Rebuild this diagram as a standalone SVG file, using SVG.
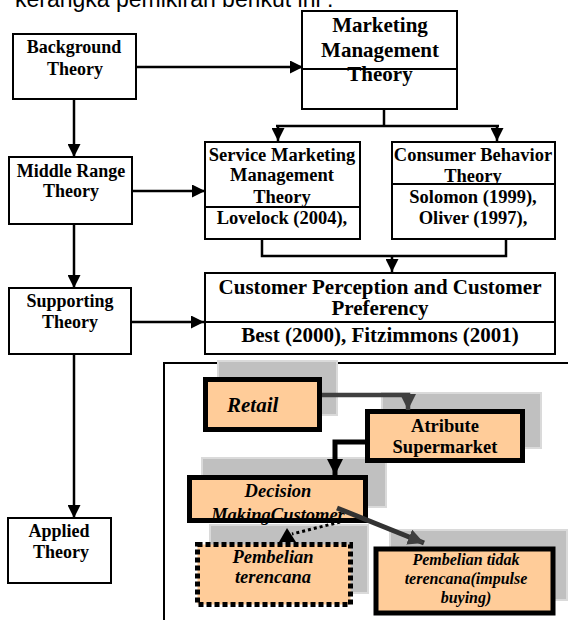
<svg xmlns="http://www.w3.org/2000/svg" width="568" height="620" viewBox="0 0 568 620">
<defs>
<style>
.b{fill:#fff;stroke:#000;stroke-width:2}
.t{font-family:"Liberation Serif","Times New Roman",serif;font-weight:bold;text-anchor:middle;fill:#000}
.s18{font-size:18px}
.s185{font-size:18.5px}
.s21{font-size:21px}
.it{font-style:italic}
.ln{fill:none;stroke:#000;stroke-width:2.5}
.sh{fill:#c0c0c0;stroke:#dadada;stroke-width:2}
.ob{fill:#ffcc99;stroke:#000;stroke-width:5}
</style>
<marker id="ah" viewBox="0 0 10 10" refX="10" refY="5" markerUnits="userSpaceOnUse" markerWidth="15" markerHeight="13" orient="auto"><path d="M0,0 L10,5 L0,10 z" fill="#000"/></marker>
<marker id="ahb" viewBox="0 0 10 10" refX="10" refY="5" markerUnits="userSpaceOnUse" markerWidth="16" markerHeight="16" orient="auto"><path d="M0,0 L10,5 L0,10 z" fill="#000"/></marker>
<marker id="ahg" viewBox="0 0 10 10" refX="10" refY="5" markerUnits="userSpaceOnUse" markerWidth="16" markerHeight="16" orient="auto"><path d="M0,0 L10,5 L0,10 z" fill="#404040"/></marker>
</defs>
<rect width="568" height="620" fill="#fff"/>
<text x="15" y="7" font-family="Liberation Sans, Arial, sans-serif" font-size="23" fill="#000">kerangka pemikiran berikut ini :</text>

<g id="background-theory">
<rect class="b" x="13" y="34" width="123" height="65"/>
<text class="t s18" x="74" y="53">Background</text>
<text class="t s18" x="75" y="75">Theory</text>
</g>
<g id="marketing-management-theory">
<rect class="b" x="302" y="11" width="155" height="98"/>
<line x1="302" y1="69" x2="457" y2="69" stroke="#000" stroke-width="2"/>
<text class="t s21" x="380" y="32">Marketing</text>
<text class="t s21" x="380" y="57">Management</text>
<text class="t s21" x="380" y="81">Theory</text>
</g>
<g id="middle-range-theory">
<rect class="b" x="9" y="157" width="123" height="67"/>
<text class="t s18" x="71" y="177">Middle Range</text>
<text class="t s18" x="71" y="197">Theory</text>
</g>
<g id="service-marketing">
<rect class="b" x="205" y="142" width="155" height="97"/>
<text class="t s185" x="282" y="161">Service Marketing</text>
<text class="t s185" x="282" y="181">Management</text>
<text class="t s185" x="282" y="203">Theory</text>
<rect class="b" x="205" y="207" width="155" height="32"/>
<text class="t s185" x="282" y="224">Lovelock (2004),</text>
</g>
<g id="consumer-behavior">
<rect class="b" x="392" y="142" width="163" height="97"/>
<text class="t s185" x="473" y="161">Consumer Behavior</text>
<text class="t s185" x="473" y="182">Theory</text>
<rect class="b" x="392" y="184" width="163" height="55"/>
<text class="t s185" x="473" y="203">Solomon (1999),</text>
<text class="t s185" x="473" y="224">Oliver (1997),</text>
</g>
<g id="supporting-theory">
<rect class="b" x="9" y="288" width="122" height="66"/>
<text class="t s18" x="70" y="307">Supporting</text>
<text class="t s18" x="70" y="328">Theory</text>
</g>
<g id="customer-perception">
<rect class="b" x="205" y="273" width="350" height="81"/>
<text class="t s21" x="380" y="294">Customer Perception and Customer</text>
<text class="t s21" x="380" y="315">Preferency</text>
<rect class="b" x="205" y="322" width="350" height="32"/>
<text class="t s21" x="380" y="342">Best (2000), Fitzimmons (2001)</text>
</g>
<g id="applied-theory">
<rect class="b" x="8" y="518" width="103" height="65"/>
<text class="t s18" x="59" y="537">Applied</text>
<text class="t s18" x="61" y="558">Theory</text>
</g>

<g id="frame">
<path d="M164,620 V363 H568" fill="none" stroke="#000" stroke-width="2"/>
</g>

<g id="shadows">
<rect class="sh" x="218" y="361" width="119" height="54"/>
<rect class="sh" x="382" y="393" width="159" height="55"/>
<rect class="sh" x="202" y="458" width="184" height="49"/>
<rect class="sh" x="210" y="525" width="158" height="68"/>
<rect class="sh" x="390" y="530" width="177" height="70"/>
</g>
<g id="retail">
<rect class="ob" x="205.5" y="379.5" width="114" height="50"/>
<text class="t it" x="227" y="412" font-size="21" text-anchor="start" style="text-anchor:start">Retail</text>
</g>
<g id="atribute-supermarket">
<rect class="ob" x="367.5" y="411.5" width="155" height="49"/>
<text class="t s185" x="445" y="432">Atribute</text>
<text class="t s185" x="445" y="453">Supermarket</text>
</g>
<g id="decision-making">
<rect x="189.5" y="477.5" width="176" height="43" fill="#ffcc99"/>
<text class="t s185 it" x="278" y="497">Decision</text>
<text class="t s185 it" x="278" y="521">MakingCustomer</text>
<rect x="189.5" y="477.5" width="176" height="43" fill="none" stroke="#000" stroke-width="5"/>
</g>
<g id="pembelian-terencana">
<rect x="197.5" y="544.5" width="153" height="60" fill="#ffcc99" stroke="#000" stroke-width="5" stroke-dasharray="5 3"/>
<text class="t s185 it" x="273" y="563">Pembelian</text>
<text class="t s185 it" x="273" y="583">terencana</text>
</g>
<g id="pembelian-tidak-terencana">
<rect class="ob" x="376" y="549" width="177" height="64" stroke-width="6"/>
<text class="t it" x="466" y="565" font-size="16">Pembelian tidak</text>
<text class="t it" x="466" y="584" font-size="16">terencana(impulse</text>
<text class="t it" x="466" y="603" font-size="16">buying)</text>
</g>

<g id="connectors">
<line class="ln" x1="136" y1="67" x2="303" y2="67" stroke-width="3" marker-end="url(#ah)"/>
<line class="ln" x1="384" y1="109" x2="384" y2="126"/>
<line class="ln" x1="276" y1="126" x2="499" y2="126" stroke-width="3"/>
<line class="ln" x1="278" y1="126" x2="278" y2="141" marker-end="url(#ah)"/>
<line class="ln" x1="497" y1="126" x2="497" y2="141" marker-end="url(#ah)"/>
<line class="ln" x1="74" y1="99" x2="74" y2="157" marker-end="url(#ah)"/>
<line class="ln" x1="132" y1="191" x2="205" y2="191" marker-end="url(#ah)"/>
<line class="ln" x1="74" y1="224" x2="74" y2="288" marker-end="url(#ah)"/>
<path class="ln" d="M262,239 V256 H506 V239"/>
<line class="ln" x1="392" y1="256" x2="392" y2="272" marker-end="url(#ah)"/>
<line class="ln" x1="131" y1="322" x2="204" y2="322" marker-end="url(#ah)"/>
<line class="ln" x1="74" y1="354" x2="74" y2="518" marker-end="url(#ah)"/>
<path d="M322,395 H408 V410" fill="none" stroke="#404040" stroke-width="4.5" marker-end="url(#ahg)"/>
<path d="M366,442 H335 V475" fill="none" stroke="#000" stroke-width="5" marker-end="url(#ahb)"/>
<line x1="337" y1="508" x2="424" y2="543" stroke="#333" stroke-width="5" marker-end="url(#ahg)"/>
<line x1="340" y1="522" x2="292" y2="534" stroke="#000" stroke-width="3" stroke-dasharray="3 3"/>
<polygon points="287,528 279,542 296,542" fill="#000"/>
</g>
</svg>
